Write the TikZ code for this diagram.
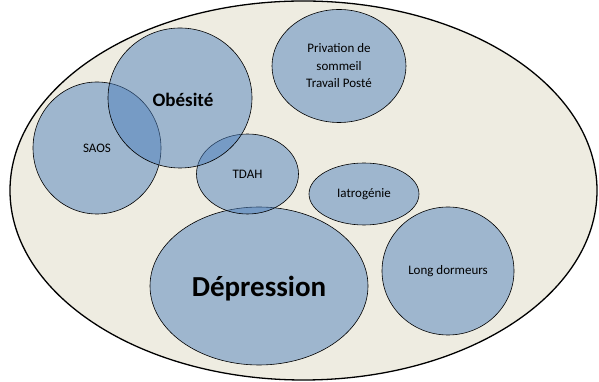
\documentclass[tikz,border=0pt]{standalone}
\usepackage{fontspec}
\setmainfont{Carlito}
\usetikzlibrary{shapes.geometric}
\definecolor{bgtan}{RGB}{238,236,225}
\definecolor{officeblue}{RGB}{79,129,189}
\tikzset{
  blob/.style={ellipse, draw=black, line width=0.6pt, fill=officeblue, fill opacity=0.5, draw opacity=1, text opacity=1, inner sep=0pt, font=\fontsize{13}{17.5}\selectfont, align=center},
}
\begin{document}
\begin{tikzpicture}[x=1pt,y=1pt]
\useasboundingbox (0,0) rectangle (599,382);
\node[ellipse, draw=black, line width=1.3pt, fill=bgtan, minimum width=587pt, minimum height=379pt, inner sep=0pt] (outer) at (303.5,191.5) {};
\node[blob, minimum width=134pt, minimum height=113pt] (priv) at (339,316) {Privation de\\sommeil\\Travail Posté};
\node[blob, minimum width=218pt, minimum height=158pt] (dep) at (259,96) {};
\node[font=\fontsize{29}{33}\selectfont\bfseries] (dept) at (259,93) {Dépression};
\node[blob, minimum width=102pt, minimum height=80pt] (tdah) at (247.5,208) {TDAH};
\node[blob, minimum width=128pt, minimum height=132pt] (saos) at (97,234) {SAOS};
\node[blob, minimum width=144pt, minimum height=140pt] (obe) at (180,284) {};
\node[font=\fontsize{19}{22}\selectfont\bfseries] (obet) at (183,282) {Obésité};
\node[blob, minimum width=110pt, minimum height=62pt] (iatro) at (364,188) {Iatrogénie};
\node[blob, minimum width=132pt, minimum height=128pt] (long) at (448,111) {Long dormeurs};
\end{tikzpicture}
\end{document}
